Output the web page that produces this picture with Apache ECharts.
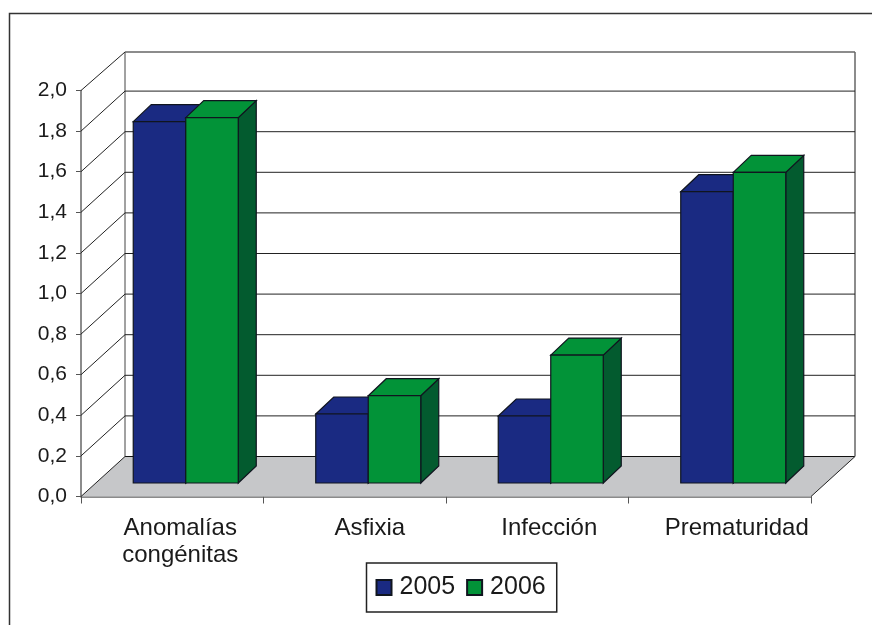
<!DOCTYPE html>
<html lang="es">
<head>
  <meta charset="UTF-8">
  <title>Causas 2005-2006</title>
  <script src="https://cdnjs.cloudflare.com/ajax/libs/echarts/6.0.0/echarts.min.js"></script>
  <style>
    html, body { margin: 0; padding: 0; background: #fff; }
  </style>
</head>
<body>
  <div id="main" style="width: 872px;height:625px;"></div>
<script type="text/javascript">
  var categories = ['Anomalías\ncongénitas', 'Asfixia', 'Infección', 'Prematuridad'];
  var values2005 = [1.78, 0.34, 0.33, 1.435];
  var values2006 = [1.80, 0.43, 0.63, 1.53];
  var wallTicks = [0.2, 0.4, 0.6, 0.8, 1.0, 1.2, 1.4, 1.6, 1.8, 2.0];

  var app = echarts.init(document.getElementById('main'));

  // fake 3d: wall sits 44,40 px behind the axis plane, bars stand inside that depth
  var WALL_DX = 44, WALL_DY = 40;
  var BAR_DX = 13.5, BAR_DY = 13.5;
  var DEPTH_DX = 18, DEPTH_DY = 17;
  var BAR_SHARE = 0.2877;
  var EDGE = { stroke: '#10151f', lineWidth: 1.2 };

  // the labels in the reference are not centred on the bands, left padding pushes them right
  var labelRich = {
    c0: { fontSize: 24, lineHeight: 27, color: '#1a1a1a', padding: [0, 0, 0, 16] },
    c1: { fontSize: 24, lineHeight: 27, color: '#1a1a1a', padding: [0, 0, 0, 30] },
    c2: { fontSize: 24, lineHeight: 27, color: '#1a1a1a', padding: [0, 0, 0, 24] },
    c3: { fontSize: 24, lineHeight: 27, color: '#1a1a1a', padding: [0, 0, 0, 34] }
  };

  function poly(points, fill) {
    return {
      type: 'polygon',
      shape: { points: points },
      style: { fill: fill, stroke: EDGE.stroke, lineWidth: EDGE.lineWidth }
    };
  }

  function barRenderer(side, front, sideColor) {
    return function (params, api) {
      var top = api.coord([api.value(0), api.value(1)]);
      var base = api.coord([api.value(0), 0]);
      var w = api.size([1, 0])[0] * BAR_SHARE;
      var x0 = top[0] + BAR_DX + (side < 0 ? -w : 0);
      var x1 = x0 + w;
      var y0 = top[1] - BAR_DY;
      var y1 = base[1] - BAR_DY;
      return {
        type: 'group',
        children: [
          poly([[x1, y0], [x1 + DEPTH_DX, y0 - DEPTH_DY], [x1 + DEPTH_DX, y1 - DEPTH_DY], [x1, y1]], sideColor),
          poly([[x0, y0], [x0 + DEPTH_DX, y0 - DEPTH_DY], [x1 + DEPTH_DX, y0 - DEPTH_DY], [x1, y0]], front),
          poly([[x0, y0], [x1, y0], [x1, y1], [x0, y1]], front)
        ]
      };
    };
  }

  function renderFloor(params) {
    var g = params.coordSys;
    var b = g.y + g.height, r = g.x + g.width;
    return {
      type: 'group',
      children: [
        {
          type: 'polygon',
          shape: { points: [[g.x, b], [g.x + WALL_DX, b - WALL_DY], [r + WALL_DX, b - WALL_DY], [r, b]] },
          style: { fill: '#c6c7c9' }
        },
        { type: 'line', shape: { x1: g.x, y1: b, x2: g.x + WALL_DX, y2: b - WALL_DY }, style: { stroke: '#222', lineWidth: 1 } },
        { type: 'line', shape: { x1: r, y1: b, x2: r + WALL_DX, y2: b - WALL_DY }, style: { stroke: '#222', lineWidth: 1 } },
        { type: 'line', shape: { x1: g.x + WALL_DX, y1: b - WALL_DY, x2: r + WALL_DX, y2: b - WALL_DY }, style: { stroke: '#111', lineWidth: 1 } },
        { type: 'line', shape: { x1: g.x + WALL_DX, y1: b - WALL_DY, x2: g.x + WALL_DX, y2: g.y - WALL_DY + 1.5 }, style: { stroke: '#444', lineWidth: 1 } },
        { type: 'line', shape: { x1: r + WALL_DX, y1: b - WALL_DY, x2: r + WALL_DX, y2: g.y - WALL_DY + 1.5 }, style: { stroke: '#666', lineWidth: 1.5 } }
      ]
    };
  }

  function renderWallLine(params, api) {
    var g = params.coordSys;
    var y = api.coord([0, api.value(0)])[1];
    var isTop = api.value(0) === 2;
    var yBack = y - WALL_DY + (isTop ? 1.5 : 0);
    return {
      type: 'group',
      children: [
        { type: 'line', shape: { x1: g.x, y1: y, x2: g.x + WALL_DX, y2: yBack }, style: { stroke: '#222', lineWidth: 1 } },
        {
          type: 'line',
          shape: { x1: g.x + WALL_DX, y1: yBack, x2: g.x + g.width + WALL_DX, y2: yBack },
          style: { stroke: isTop ? '#666' : '#222', lineWidth: isTop ? 1.5 : 1 }
        }
      ]
    };
  }

  var option = {
    backgroundColor: '#fff',
    animation: false,
    textStyle: { fontFamily: '"Liberation Sans", Arial, sans-serif' },
    grid: { left: 81, right: 61, top: 90.5, bottom: 128.5 },
    graphic: [{
      type: 'polyline',
      shape: { points: [[9.5, 625], [9.5, 13.5], [872, 13.5]] },
      style: { stroke: '#333', lineWidth: 1.5, fill: null },
      silent: true
    }],
    legend: {
      data: ['2005', '2006'],
      left: 366.5,
      top: 563,
      orient: 'horizontal',
      backgroundColor: '#fff',
      borderColor: '#222',
      borderWidth: 1.5,
      padding: [12, 11, 12, 9],
      itemWidth: 15,
      itemHeight: 15,
      itemGap: 11,
      selectedMode: false,
      icon: 'rect',
      textStyle: { fontSize: 25, color: '#1a1a1a', padding: [0, 0, 0, 3], fontFamily: '"Liberation Sans", Arial, sans-serif' }
    },
    xAxis: {
      type: 'category',
      data: categories,
      axisLine: { lineStyle: { color: '#666', width: 1.5 } },
      axisTick: { show: true, length: 7, lineStyle: { color: '#555', width: 1 } },
      axisLabel: {
        interval: 0,
        margin: 18,
        fontFamily: '"Liberation Sans", Arial, sans-serif',
        rich: labelRich,
        formatter: function (name) {
          var tag = 'c' + categories.indexOf(name);
          return name.split('\n').map(function (line) {
            return '{' + tag + '|' + line + '}';
          }).join('\n');
        }
      }
    },
    yAxis: {
      type: 'value',
      min: 0,
      max: 2,
      interval: 0.2,
      splitLine: { show: false },
      axisLine: { show: true, lineStyle: { color: '#666', width: 1.5 } },
      axisTick: { show: true, length: 5, lineStyle: { color: '#555', width: 1 } },
      axisLabel: {
        color: '#1a1a1a',
        fontSize: 21,
        margin: 14,
        fontFamily: '"Liberation Sans", Arial, sans-serif',
        formatter: function (v) { return v.toFixed(1).replace('.', ','); }
      }
    },
    series: [
      {
        type: 'custom', name: 'floor', silent: true, z: 1,
        data: [[0]], renderItem: renderFloor, encode: { y: 0 }
      },
      {
        type: 'custom', name: 'wall', silent: true, z: 1,
        data: wallTicks.map(function (t) { return [t]; }), renderItem: renderWallLine, encode: { y: 0 }
      },
      {
        type: 'custom', name: '2005', z: 3,
        itemStyle: { color: '#1a2a82', borderColor: '#10151f', borderWidth: 1 },
        data: values2005.map(function (v, i) { return [i, v]; }),
        renderItem: barRenderer(-1, '#1a2a82', '#10205f'),
        encode: { x: 0, y: 1 }
      },
      {
        type: 'custom', name: '2006', z: 4,
        itemStyle: { color: '#029338', borderColor: '#10151f', borderWidth: 1 },
        data: values2006.map(function (v, i) { return [i, v]; }),
        renderItem: barRenderer(1, '#029338', '#035b2f'),
        encode: { x: 0, y: 1 }
      }
    ]
  };
  app.setOption(option);
</script>
</body>
</html>
